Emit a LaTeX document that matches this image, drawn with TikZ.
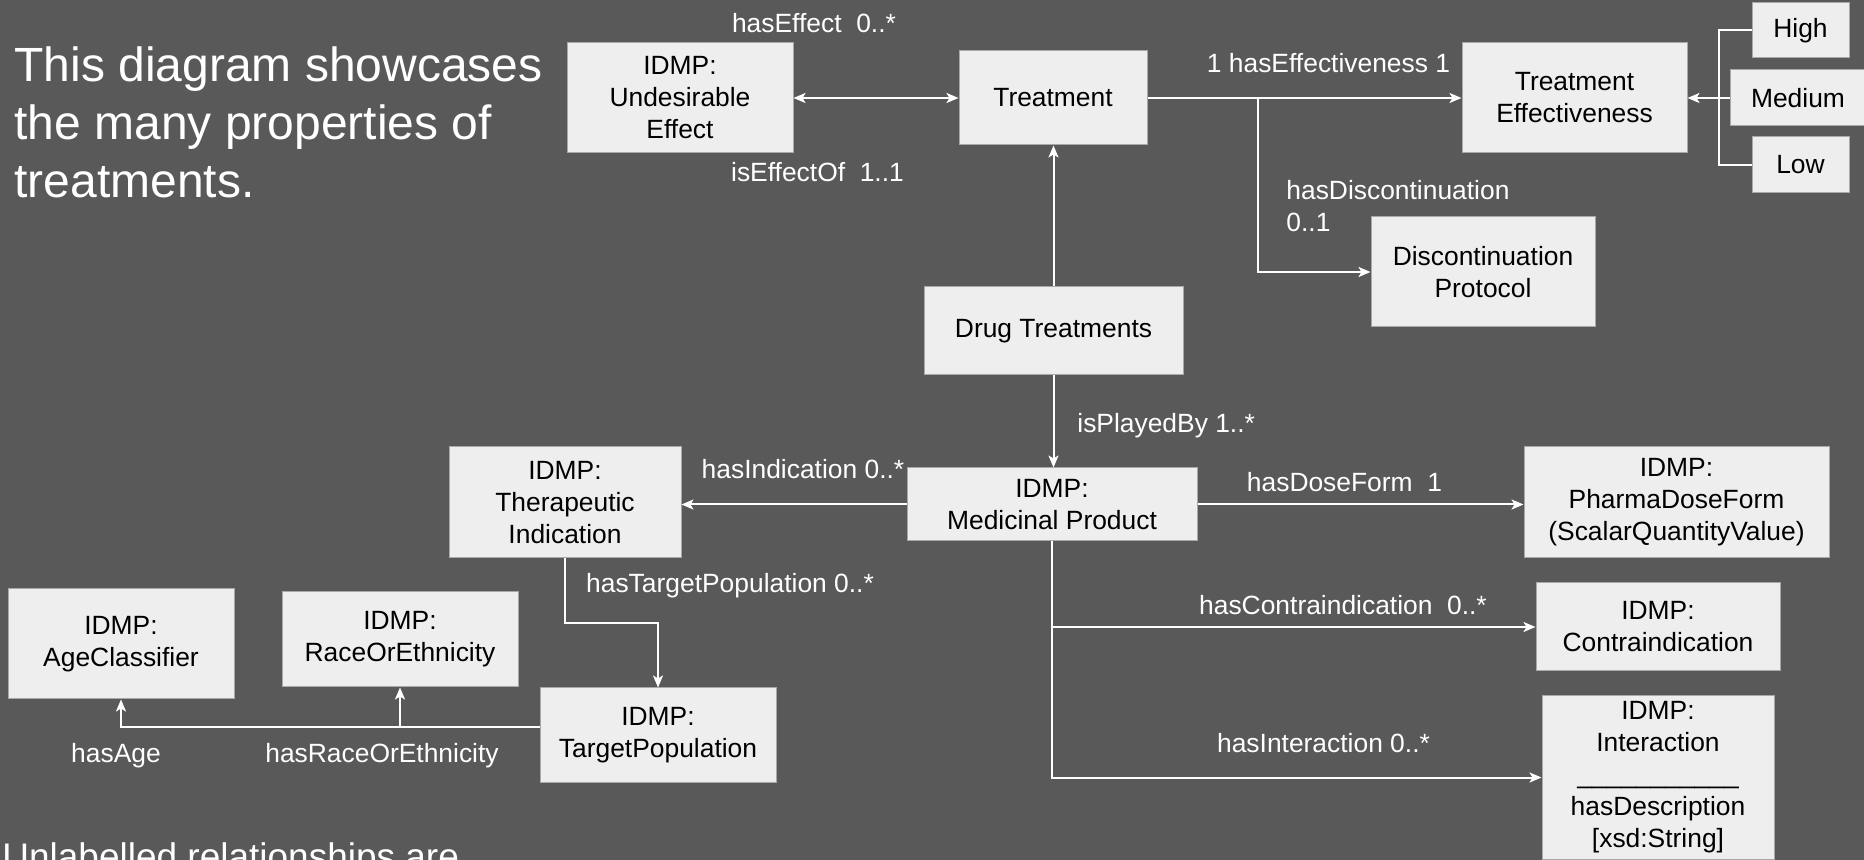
\documentclass[tikz,border=0pt]{standalone}
\usepackage{fontspec}
\setmainfont{Liberation Sans}
\usetikzlibrary{arrows.meta}
\definecolor{bg}{HTML}{595959}
\definecolor{boxfill}{HTML}{EEEEEE}
\definecolor{boxline}{HTML}{A8A8A8}
\begin{document}
\begin{tikzpicture}[x=0.5pt,y=-0.5pt,
  box/.style={draw=boxline, line width=0.5pt, fill=boxfill, text=black, align=center, inner sep=0pt,
    font=\fontsize{13.2pt}{16pt}\selectfont},
  lbl/.style={text=white, inner sep=0pt, font=\fontsize{13.2pt}{16pt}\selectfont, text height=9.5pt, text depth=0pt},
  lblml/.style={text=white, inner sep=0pt, align=left, font=\fontsize{13.2pt}{16pt}\selectfont},
  title/.style={text=white, inner sep=0pt, anchor=base west, font=\fontsize{24pt}{29pt}\selectfont},
  conn/.style={draw=white, line width=1pt},
  arr/.style={conn, -{Stealth[length=6pt,width=5pt,inset=1.5pt]}},
  darr/.style={conn, {Stealth[length=6pt,width=5pt,inset=1.5pt]}-{Stealth[length=6pt,width=5pt,inset=1.5pt]}},
]
\useasboundingbox (0,0) rectangle (1864,860);
\clip (0,0) rectangle (1864,860);
\fill[bg] (0,0) rectangle (1864,860);

% title text
\node[title] (t1) at (14,82) {This diagram showcases};
\node[title] (t2) at (14,140) {the many properties of};
\node[title] (t3) at (14,198) {treatments.};
\node[text=white, inner sep=0pt, anchor=base west, font=\fontsize{18.5pt}{22pt}\selectfont] (note) at (2,869.5) {Unlabelled relationships are};

% boxes
\node[box, minimum width=113pt, minimum height=55pt] (UE) at (680,98) {IDMP:\\Undesirable\\Effect};
\node[box, minimum width=94pt, minimum height=47pt] (Tr) at (1053,98) {Treatment};
\node[box, minimum width=112.5pt, minimum height=55pt] (TE) at (1574.5,98) {Treatment\\Effectiveness};
\node[box, minimum width=48.5pt, minimum height=27.5pt] (High) at (1800.5,30.5) {High};
\node[box, minimum width=68pt, minimum height=28pt] (Med) at (1798,98) {Medium};
\node[box, minimum width=48.5pt, minimum height=28pt] (Low) at (1800.5,165) {Low};
\node[box, minimum width=112pt, minimum height=55pt] (DP) at (1483,272) {Discontinuation\\Protocol};
\node[box, minimum width=129.5pt, minimum height=44pt] (DT) at (1053.5,331) {Drug Treatments};
\node[box, minimum width=145pt, minimum height=36.5pt] (MP) at (1052,504.5) {IDMP:\\Medicinal Product};
\node[box, minimum width=116pt, minimum height=55.5pt] (TI) at (565,502.5) {IDMP:\\Therapeutic\\Indication};
\node[box, minimum width=152.5pt, minimum height=55.5pt] (PDF) at (1676.5,502.5) {IDMP:\\PharmaDoseForm\\(ScalarQuantityValue)};
\node[box, minimum width=122pt, minimum height=44pt] (CI) at (1658,627) {IDMP:\\Contraindication};
\node[box, minimum width=116pt, minimum height=81.5pt] (Int) at (1658,777.5) {IDMP:\\Interaction\\\_\_\_\_\_\_\_\_\_\_\_\\hasDescription\\{}[xsd:String]};
\node[box, minimum width=118pt, minimum height=47pt] (TP) at (658,735) {IDMP:\\TargetPopulation};
\node[box, minimum width=113pt, minimum height=55pt] (AC) at (121,644) {IDMP:\\AgeClassifier};
\node[box, minimum width=118pt, minimum height=47.5pt] (RoE) at (400,639.5) {IDMP:\\RaceOrEthnicity};

% connectors
\draw[darr] (UE.east) -- (Tr.west);
\draw[arr] (Tr.east) -- (TE.west);
\coordinate (brDP) at (1258,98);
\draw[arr] (brDP) |- (DP.west);
\coordinate (hml) at (1719,98);
\draw[conn] (High.west) -| (hml);
\draw[conn] (Low.west) -| (hml);
\draw[conn] (Med.west) -- (hml);
\draw[arr] (hml) -- (TE.east);
\draw[arr] (DT.north) -- (DT.north |- Tr.south);
\draw[arr] (DT.south) -- (DT.south |- MP.north);
\draw[arr] (MP.west) -- (MP.west -| TI.east);
\draw[arr] (MP.east) -- (MP.east -| PDF.west);
\draw[arr] (MP.south) |- (Int.west);
\draw[arr] (MP.south |- CI.west) -- (CI.west);
\coordinate (tpbend) at (565,623);
\draw[arr] (TI.south) -- (tpbend) -| (TP.north);
\coordinate (tpl) at ([yshift=4pt]TP.west);
\draw[arr] (tpl) -| (AC.south);
\draw[arr] (tpl -| RoE.south) -- (RoE.south);

% labels
\node[lbl] (lEff) at (814,23) {hasEffect~~0..*};
\node[lbl] (lIsEff) at (817.5,172) {isEffectOf~~1..1};
\node[lbl] (lEffv) at (1328.5,63) {1 hasEffectiveness 1};
\node[lblml, anchor=north west] (lDisc) at (1286,179.5) {hasDiscontinuation\\0..1};
\node[lbl, anchor=west] (lPlay) at (1077,423) {isPlayedBy 1..*};
\node[lbl] (lInd) at (803,469) {hasIndication 0..*};
\node[lbl] (lDose) at (1344.5,482) {hasDoseForm~~1};
\node[lbl] (lCI) at (1343,605) {hasContraindication~~0..*};
\node[lbl] (lInt) at (1323.5,743) {hasInteraction 0..*};
\node[lbl] (lTP) at (730,583) {hasTargetPopulation 0..*};
\node[lbl] (lAge) at (116,753) {hasAge};
\node[lbl] (lRoE) at (382,753) {hasRaceOrEthnicity};
\end{tikzpicture}
\end{document}
